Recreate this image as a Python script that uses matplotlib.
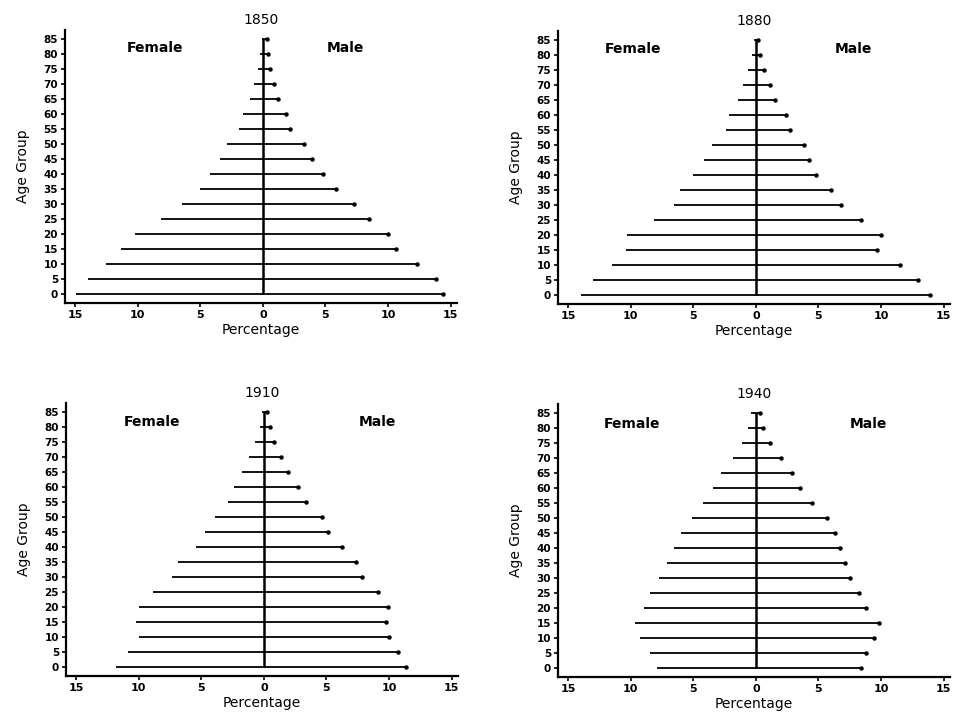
import matplotlib
matplotlib.use("Agg")
import matplotlib.pyplot as plt
import numpy as np

ages = [0, 5, 10, 15, 20, 25, 30, 35, 40, 45, 50, 55, 60, 65, 70, 75, 80, 85]
years = ["1850", "1880", "1910", "1940"]

female_1850 = [14.9, 14.0, 12.5, 11.35, 10.25, 8.15, 6.45, 5.05, 4.25, 3.4, 2.85, 1.9, 1.6, 1.05, 0.7, 0.4, 0.2, 0.1]
male_1850 = [14.4, 13.8, 12.3, 10.65, 10.0, 8.5, 7.3, 5.8, 4.8, 3.9, 3.3, 2.15, 1.85, 1.2, 0.85, 0.55, 0.4, 0.3]

female_1880 = [13.96, 12.97, 11.52, 10.35, 10.29, 8.13, 6.52, 6.04, 5.05, 4.12, 3.53, 2.4, 2.14, 1.42, 0.99, 0.59, 0.3, 0.15]
male_1880 = [13.93, 12.97, 11.5, 9.65, 9.97, 8.37, 6.76, 6.02, 4.84, 4.22, 3.82, 2.75, 2.4, 1.55, 1.1, 0.67, 0.35, 0.2]

female_1910 = [11.8, 10.85, 9.95, 10.25, 9.95, 8.85, 7.3, 6.85, 5.45, 4.7, 3.9, 2.85, 2.4, 1.75, 1.2, 0.7, 0.3, 0.15]
male_1910 = [11.35, 10.7, 10.0, 9.75, 9.95, 9.1, 7.8, 7.35, 6.2, 5.15, 4.65, 3.4, 2.7, 1.95, 1.35, 0.8, 0.45, 0.25]

female_1940 = [7.9, 8.45, 9.25, 9.65, 8.9, 8.45, 7.7, 7.1, 6.55, 6.0, 5.1, 4.2, 3.45, 2.8, 1.85, 1.1, 0.6, 0.4]
male_1940 = [8.4, 8.8, 9.45, 9.8, 8.8, 8.25, 7.5, 7.1, 6.75, 6.35, 5.65, 4.45, 3.55, 2.85, 2.0, 1.15, 0.6, 0.35]

females = [female_1850, female_1880, female_1910, female_1940]
males = [male_1850, male_1880, male_1910, male_1940]

x_ticks = [-15, -10, -5, 0, 5, 10, 15]
x_ticklabels = ["15", "10", "5", "0", "5", "10", "15"]

W, H = 960, 714
fig = plt.figure(figsize=(W / 100, H / 100), dpi=100)
plt.rcParams['font.family'] = ['DejaVu Sans']

panel_px = [(65, 303), (558, 304), (66, 676), (558, 677)]
female_lab_x = [-8.6, -9.8, -8.9, -9.9]
male_lab_x = [6.6, 7.8, 9.1, 9.0]
label_y = [82, 82, 81.5, 81.5]
aw, ah = 392, 273

for i in range(4):
    lpx, bpx = panel_px[i]
    ax = fig.add_axes([lpx / W, (H - bpx) / H, aw / W, ah / H])
    f = np.array(females[i])
    m = np.array(males[i])
    a = np.array(ages)
    ax.hlines(a, -f, m, color="black", lw=1.3)
    ax.plot(m, a, "o", color="black", ms=2.2)
    ax.vlines(0, 0, 85, color="black", lw=1.8)
    ax.set_xlim(-15.8, 15.5)
    ax.set_ylim(-3, 88)
    ax.set_xticks(x_ticks)
    ax.set_xticklabels(x_ticklabels, fontsize=8, fontweight="bold")
    ax.set_yticks(ages)
    ax.set_yticklabels([str(v) for v in ages], fontsize=7.5, fontweight="bold")
    ax.tick_params(axis="both", direction="out", length=3, width=1.2, pad=2)
    for s in ["top", "right"]:
        ax.spines[s].set_visible(False)
    for s in ["left", "bottom"]:
        ax.spines[s].set_linewidth(1.6)
    ax.set_title(years[i], fontsize=10, pad=4)
    ax.set_xlabel("Percentage", fontsize=10, labelpad=2)
    ax.set_ylabel("Age Group", fontsize=10, labelpad=10)
    ax.text(female_lab_x[i], label_y[i], "Female", fontsize=10, fontweight="bold",
            ha="center", va="center")
    ax.text(male_lab_x[i], label_y[i], "Male", fontsize=10, fontweight="bold",
            ha="center", va="center")

fig.savefig("out.png", dpi=100)
